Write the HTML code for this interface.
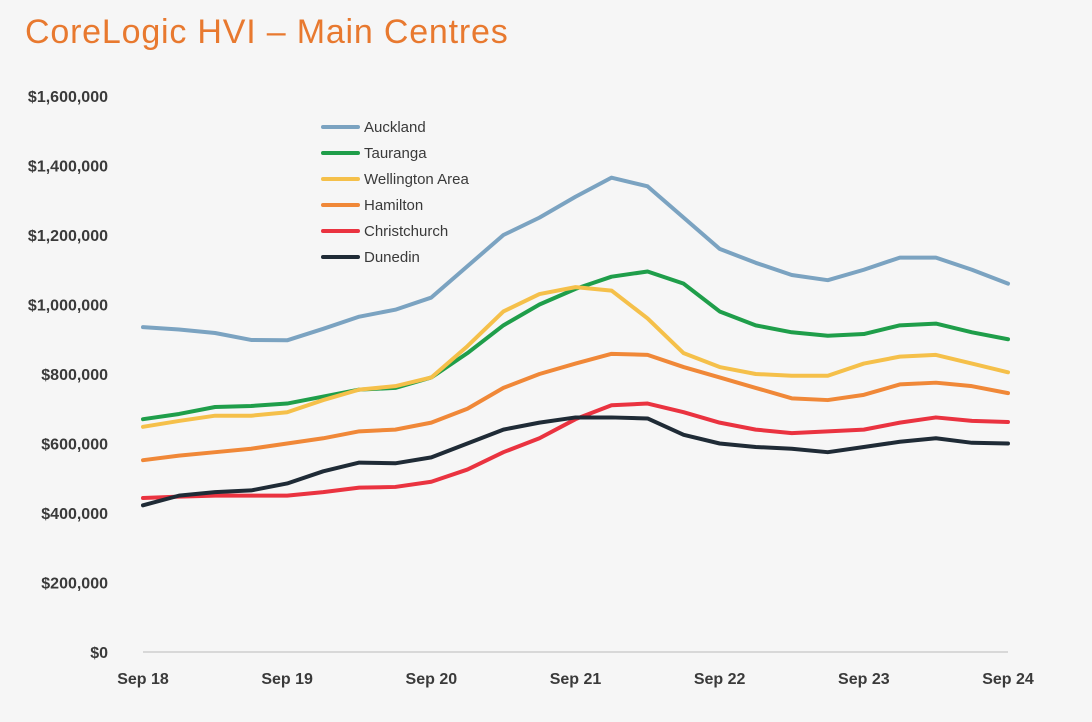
<!DOCTYPE html>
<html><head><meta charset="utf-8"><style>
body{margin:0;background:#f6f6f6;width:1092px;height:722px;overflow:hidden;font-family:"Liberation Sans",sans-serif}
#title{position:absolute;left:25px;top:13px;font-size:34px;color:#e8792f;letter-spacing:0.8px}
svg{position:absolute;left:0;top:0}
</style></head><body>
<div id="title">CoreLogic HVI – Main Centres</div>
<svg id="c" width="1092" height="722"></svg>
<script>
const xLabels=["Sep 18","Sep 19","Sep 20","Sep 21","Sep 22","Sep 23","Sep 24"];
const yTicks=[0,200,400,600,800,1000,1200,1400,1600];
const seriesNames=["Auckland","Tauranga","Wellington Area","Hamilton","Christchurch","Dunedin"];
const colors=["#7ba3c1","#1f9e4a","#f5c04a","#f08838","#ea3340","#1f2b36"];
const auckland=[935,928,918,898,897,930,965,985,1020,1110,1200,1250,1310,1365,1340,1250,1160,1120,1085,1070,1100,1135,1135,1100,1060];
const tauranga=[670,685,705,708,715,735,755,760,790,860,940,1000,1045,1080,1095,1060,980,940,920,910,915,940,945,920,900];
const wellington=[648,665,680,680,690,725,755,765,790,880,980,1030,1050,1040,960,860,820,800,795,795,830,850,855,830,805];
const hamilton=[552,565,575,585,600,615,635,640,660,700,760,800,830,858,855,820,790,760,730,725,740,770,775,765,745];
const christchurch=[443,447,450,450,450,460,473,475,490,525,575,615,670,710,715,690,660,640,630,635,640,660,675,665,662];
const dunedin=[422,450,460,465,485,520,545,543,560,600,640,660,675,675,672,625,600,590,585,575,590,605,615,602,600];
const data=[auckland,tauranga,wellington,hamilton,christchurch,dunedin];
const svg=document.getElementById('c');const NS='http://www.w3.org/2000/svg';
const x0=143,x1=1008,y0=652,y1=96;
const xs=i=>x0+(x1-x0)*i/24;
const ys=v=>y0-(y0-y1)*v/1600;
function mk(t,a){const e=document.createElementNS(NS,t);for(const k in a)e.setAttribute(k,a[k]);svg.appendChild(e);return e;}
yTicks.forEach(v=>{const t=mk('text',{x:108,y:ys(v)+6,'text-anchor':'end','font-size':16,'font-weight':'bold',fill:'#3a3a3a'});
t.textContent='$'+(v*1000).toLocaleString('en-US');

});
const ax=mk('line',{x1:x0,x2:x1,y1:y0,y2:y0,stroke:'#bbb','stroke-width':1});


xLabels.forEach((l,i)=>{const t=mk('text',{x:xs(i*4),y:684,'text-anchor':'middle','font-size':16,'font-weight':'bold',fill:'#3a3a3a'});t.textContent=l;

});
data.forEach((s,k)=>{const p=mk('polyline',{points:s.map((v,i)=>xs(i)+','+ys(v)).join(' '),fill:'none',stroke:colors[k],'stroke-width':4,'stroke-linejoin':'round','stroke-linecap':'round'});


const ly=127+26*k;
const l=mk('line',{x1:323,x2:358,y1:ly,y2:ly,stroke:colors[k],'stroke-width':4,'stroke-linecap':'round'});


const t=mk('text',{x:364,y:ly+5,'font-size':15,fill:'#3a3a3a'});t.textContent=seriesNames[k];

});
</script>
</body></html>
